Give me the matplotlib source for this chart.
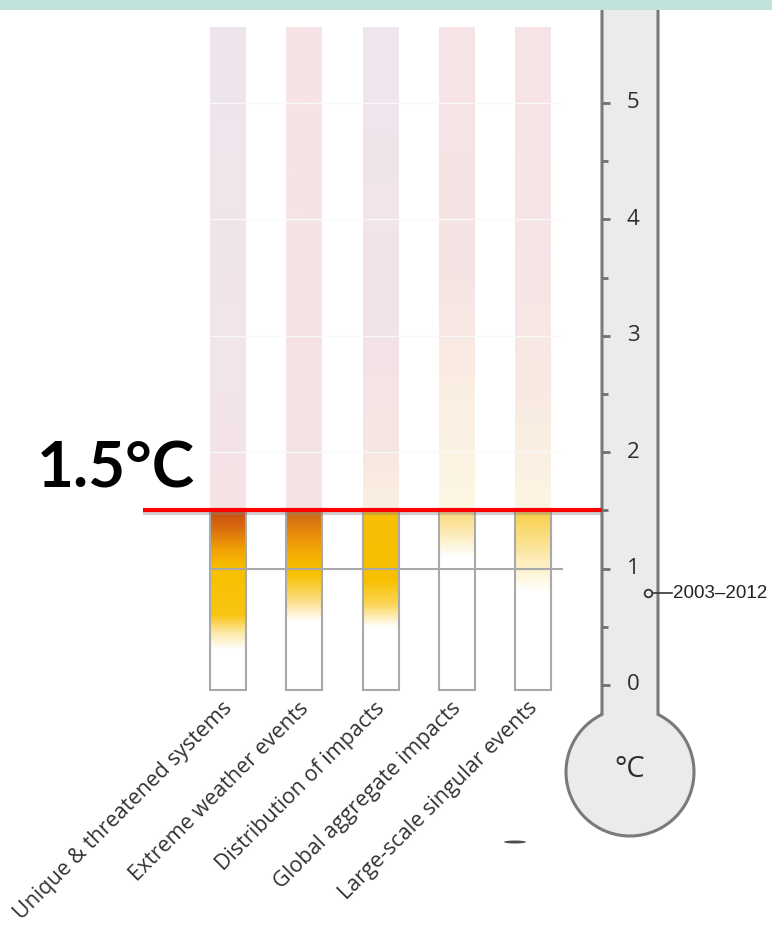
import numpy as np
import matplotlib
matplotlib.use("Agg")
import matplotlib.pyplot as plt
from matplotlib import patches, font_manager
from matplotlib.colors import to_rgb
import matplotlib.patheffects as pe

# reasons for concern, left to right
categories = [
    "Unique & threatened systems",
    "Extreme weather events",
    "Distribution of impacts",
    "Global aggregate impacts",
    "Large-scale singular events",
]

# colour stops (temperature in degC, colour) for each bar
bar_stops = [
    [(0.0, "#ffffff"), (0.30, "#ffffff"), (0.45, "#fce9a6"), (0.60, "#f9c512"),
     (1.00, "#f8c000"), (1.15, "#f2a404"), (1.35, "#da6c10"), (1.50, "#c84a10"),
     (1.51, "#f6e2e4"), (2.5, "#f2e4ea"), (5.65, "#eee6ed")],
    [(0.0, "#ffffff"), (0.55, "#ffffff"), (0.75, "#fbd874"), (0.95, "#f8c200"),
     (1.10, "#f6b202"), (1.30, "#e88c0a"), (1.50, "#c86418"),
     (1.51, "#f6e3e3"), (5.65, "#f5e3e7")],
    [(0.0, "#ffffff"), (0.50, "#ffffff"), (0.70, "#fbd452"), (0.90, "#f8c000"),
     (1.50, "#f7bf06"),
     (1.51, "#fbf0e0"), (2.0, "#f7e6e2"), (3.0, "#f3e3e8"), (5.65, "#efe6ee")],
    [(0.0, "#ffffff"), (1.10, "#ffffff"), (1.25, "#fdf0ca"), (1.50, "#fbd874"),
     (1.51, "#fdf7e4"), (2.5, "#fbeee2"), (3.5, "#f6e4e4"), (5.65, "#f6e3e6")],
    [(0.0, "#ffffff"), (0.80, "#ffffff"), (1.00, "#fdf2cc"), (1.50, "#f9ce44"),
     (1.51, "#fdf5e2"), (2.5, "#f8eae2"), (3.5, "#f6e5e6"), (5.65, "#f6e3e6")],
]

bar_bottom = -0.04
bar_top = 5.65
threshold = 1.5          # red line
recent_warming = 0.79    # 2003-2012 marker
scale_ticks = [0, 1, 2, 3, 4, 5]
minor_ticks = [0.5, 1.5, 2.5, 3.5, 4.5]

# layout: 76.25 px per bar slot, 116.4 px per degree
PX_X, PX_Y = 76.25, 116.4
W, H = 772, 931
ORIGIN_X, ORIGIN_Y = 228, 685

names = {f.name for f in font_manager.fontManager.ttflist}
narrow = "Liberation Sans Narrow" if "Liberation Sans Narrow" in names else "Liberation Sans"

fig = plt.figure(figsize=(W / 100, H / 100), dpi=100)
ax = fig.add_axes([0, 0, 1, 1])
ax.axis("off")

bar_w = 36 / PX_X

# gradient bars
ys = np.linspace(bar_bottom, bar_top, 600)
for i, stops in enumerate(bar_stops):
    t = [s[0] for s in stops]
    cols = np.array([to_rgb(s[1]) for s in stops])
    img = np.stack([np.interp(ys, t, cols[:, k]) for k in range(3)], axis=-1)
    img = img[:, None, :]
    ax.imshow(img, extent=[i - bar_w / 2, i + bar_w / 2, bar_bottom, bar_top],
              origin="lower", aspect="auto", interpolation="bilinear", zorder=2)
    ax.add_patch(patches.Rectangle((i - bar_w / 2, bar_bottom), bar_w, threshold - bar_bottom,
                                   fill=False, ec="#a9a9a9", lw=1.5, zorder=3))

ax.set_xlim(-ORIGIN_X / PX_X, (W - ORIGIN_X) / PX_X)
ax.set_ylim((ORIGIN_Y - H) / PX_Y, ORIGIN_Y / PX_Y)

grid_x0 = -bar_w / 2
grid_x1 = (562 - ORIGIN_X) / PX_X
for g in [2, 3, 4, 5]:
    ax.plot([grid_x0, grid_x1], [g, g], color="#f8f8f8", lw=1.0, zorder=2.5)
ax.plot([grid_x0, grid_x1], [1, 1], color="#a8a8a8", lw=1.5, zorder=4)

# thermometer
tube_l = (602 - ORIGIN_X) / PX_X
tube_r = (658 - ORIGIN_X) / PX_X
bulb_cx = (630 - ORIGIN_X) / PX_X
bulb_cy = (ORIGIN_Y - 772) / PX_Y
r_px, half_px = 64, 28
t0 = np.arccos(half_px / r_px)
tt = np.linspace(t0, np.pi - t0 - 2 * np.pi, 200)
arc_x = bulb_cx + r_px / PX_X * np.cos(tt)
arc_y = bulb_cy + r_px / PX_Y * np.sin(tt)
top = 6.5
xs = np.concatenate([[tube_r], arc_x, [tube_l]])
yv = np.concatenate([[top], arc_y, [top]])
ax.add_patch(patches.Polygon(np.column_stack([xs, yv]), closed=True,
                             fc="#ebebeb", ec="#7a7a7a", lw=2.2, zorder=1))

for v in scale_ticks:
    ax.plot([tube_l, tube_l + 8 / PX_X], [v, v], color="#707070", lw=2, zorder=5,
            solid_capstyle="butt")
    ax.text((633 - ORIGIN_X) / PX_X, v, str(v), ha="center", va="center",
            fontsize=16, color="#2e2e2e", family="Open Sans", zorder=5)
for v in minor_ticks:
    ax.plot([tube_l, tube_l + 6 / PX_X], [v, v], color="#707070", lw=2, zorder=5,
            solid_capstyle="butt")

ax.text(bulb_cx, bulb_cy + 0.02, "°C", ha="center", va="center", fontsize=21,
        color="#2e2e2e", family="Open Sans", zorder=5)

# 2003-2012 marker
mx = (648 - ORIGIN_X) / PX_X
ax.plot([mx + 3 / PX_X, (672 - ORIGIN_X) / PX_X], [recent_warming] * 2,
        color="#333333", lw=1.2, zorder=5)
ax.plot([mx], [recent_warming], marker="o", ms=5.5, mfc="#ebebeb", mec="#333333",
        mew=1.3, zorder=6)
ax.text((673 - ORIGIN_X) / PX_X, recent_warming, "2003\u20132012", ha="left", va="center",
        fontsize=13.5, color="#222222", family=narrow, zorder=5)

# 1.5 degC line and label
ax.plot([(143 - ORIGIN_X) / PX_X, tube_l], [threshold] * 2, color="#ff0000", lw=3,
        solid_capstyle="butt", zorder=7,
        path_effects=[pe.SimpleLineShadow(offset=(0, -2), shadow_color="#888888", alpha=0.4),
                      pe.Normal()])
ax.text((37 - ORIGIN_X) / PX_X, (ORIGIN_Y - 488) / PX_Y, "1.5°C", ha="left", va="baseline",
        fontsize=46, fontweight="bold", family="Lato", color="#000000", zorder=7)

# category labels
for i, name in enumerate(categories):
    ax.text(i - 6 / PX_X, bar_bottom - 8 / PX_Y, name, rotation=45,
            rotation_mode="anchor", ha="right", va="top", fontsize=15.5,
            color="#333333", family="Open Sans", zorder=5)

# small smudge under the bulb
ax.add_patch(patches.Ellipse(((515 - ORIGIN_X) / PX_X, (ORIGIN_Y - 842) / PX_Y),
                             22 / PX_X, 3 / PX_Y, fc="#222222", ec="none", alpha=0.8))

# teal band across the top
fig.patches.append(patches.Rectangle((0, 1 - 10 / H), 1, 10 / H, transform=fig.transFigure,
                                     fc="#c1e1db", ec="none", zorder=10))

fig.savefig("out.png", dpi=100)
